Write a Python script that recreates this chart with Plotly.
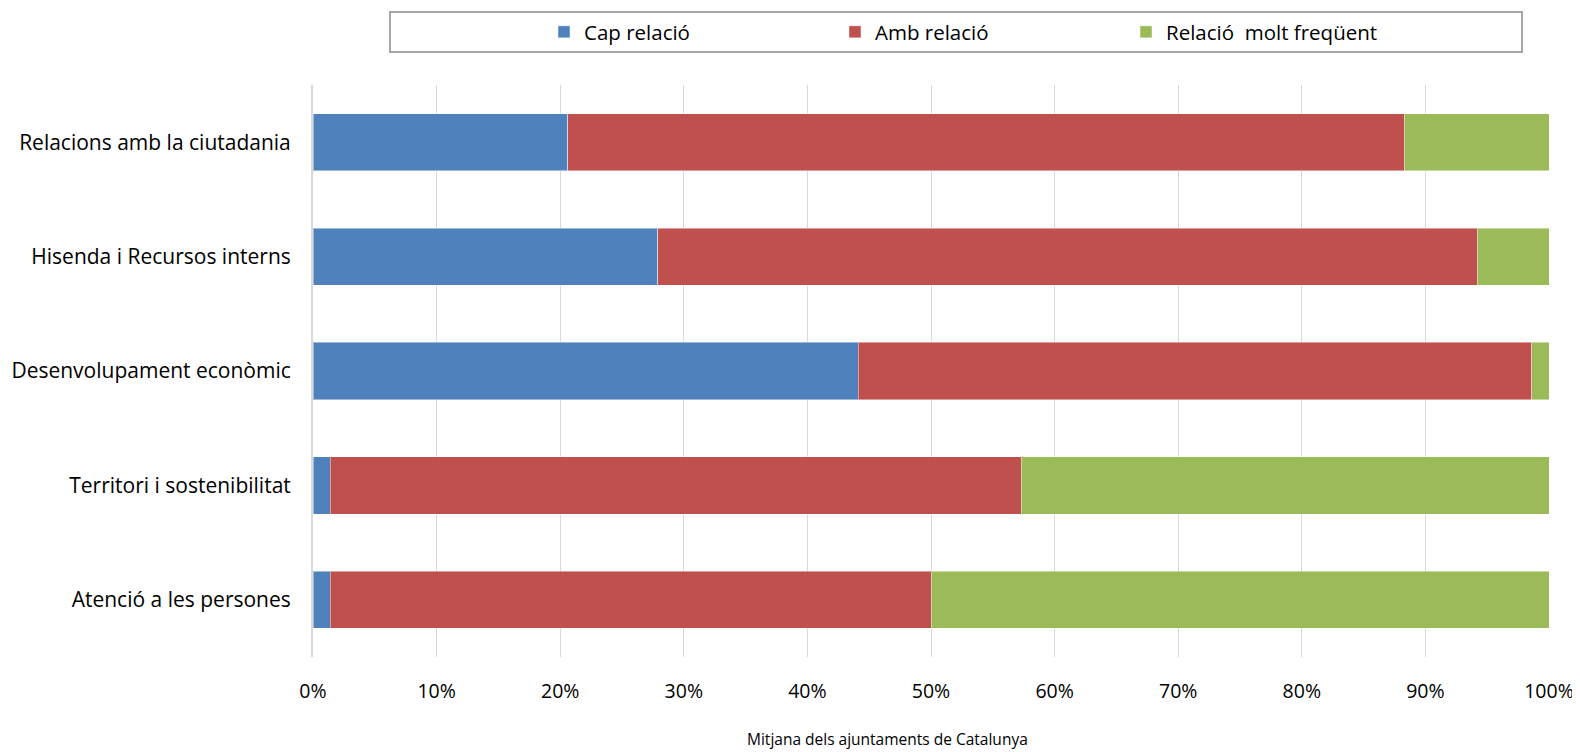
import plotly.graph_objects as go

# categories, top to bottom as in the chart
areas = [
    "Relacions amb la ciutadania",
    "Hisenda i Recursos interns",
    "Desenvolupament econòmic",
    "Territori i sostenibilitat",
    "Atenció a les persones",
]

# shares in percent
cap_relacio = [20.6, 27.9, 44.1, 1.4, 1.4]
amb_relacio = [67.7, 66.3, 54.5, 55.9, 48.6]
molt_frequent = [11.7, 5.8, 1.4, 42.7, 50.0]

series = [
    ("Cap relació", cap_relacio, "#4F81BD"),
    ("Amb relació", amb_relacio, "#C0504D"),
    ("Relació\u00a0 molt freqüent", molt_frequent, "#9BBB59"),
]

FONT = "'Open Sans', Lato, sans-serif"
# the page body adds an 8px offset, so the figure is laid out 8px up/left
OFF = 8
W, H = 1580 - OFF, 752 - OFF
L, T = 313 - OFF, 85 - OFF
R = W - (1549 - OFF)
B = H - (657 - OFF)
PW, PH = W - L - R, H - T - B


def px_x(x):
    return (x - OFF - L) / PW


def px_y(y):
    return (H - B - (y - OFF)) / PH


fig = go.Figure()
for name, vals, col in series:
    fig.add_trace(go.Bar(
        y=areas,
        x=vals,
        name=name,
        orientation="h",
        marker=dict(color=col, line=dict(color="rgba(255,255,255,0.45)", width=1)),
    ))

fig.update_layout(
    width=W,
    height=H,
    barmode="stack",
    bargap=0.5,
    plot_bgcolor="white",
    paper_bgcolor="white",
    font=dict(family=FONT, size=18, color="#000000"),
    margin=dict(l=L, r=R, t=T, b=B, autoexpand=False),
    legend=dict(
        orientation="h",
        xref="container", yref="container",
        x=(556 - OFF - 12) / W, xanchor="left",
        y=1 - (32 - OFF) / H, yanchor="middle",
        entrywidth=246,
        bgcolor="rgba(0,0,0,0)",
        font=dict(size=20.5),
        traceorder="normal",
    ),
    shapes=[dict(
        type="rect", xref="paper", yref="paper",
        x0=px_x(390), x1=px_x(1522),
        y0=px_y(52), y1=px_y(12),
        line=dict(color="#8c8c8c", width=1.5),
        fillcolor="rgba(0,0,0,0)",
    )],
    annotations=[dict(
        text="Mitjana dels ajuntaments de Catalunya",
        xref="paper", yref="paper",
        x=px_x(887), y=px_y(739),
        xanchor="center", yanchor="middle",
        showarrow=False,
        font=dict(size=15.5),
    )],
)

fig.update_xaxes(
    range=[0, 100],
    dtick=10,
    ticksuffix="%",
    showgrid=True,
    gridcolor="#d9d9d9",
    gridwidth=1,
    zeroline=False,
    showline=False,
    ticks="",
    ticklabelstandoff=20,
    tickfont=dict(size=19.5),
    automargin=False,
)
fig.update_yaxes(
    categoryorder="array",
    categoryarray=areas[::-1],
    showline=True,
    linecolor="#d9d9d9",
    linewidth=2,
    showgrid=False,
    ticks="",
    ticklabelstandoff=16,
    tickfont=dict(size=21),
    automargin=False,
)

fig.write_html("out.html")
